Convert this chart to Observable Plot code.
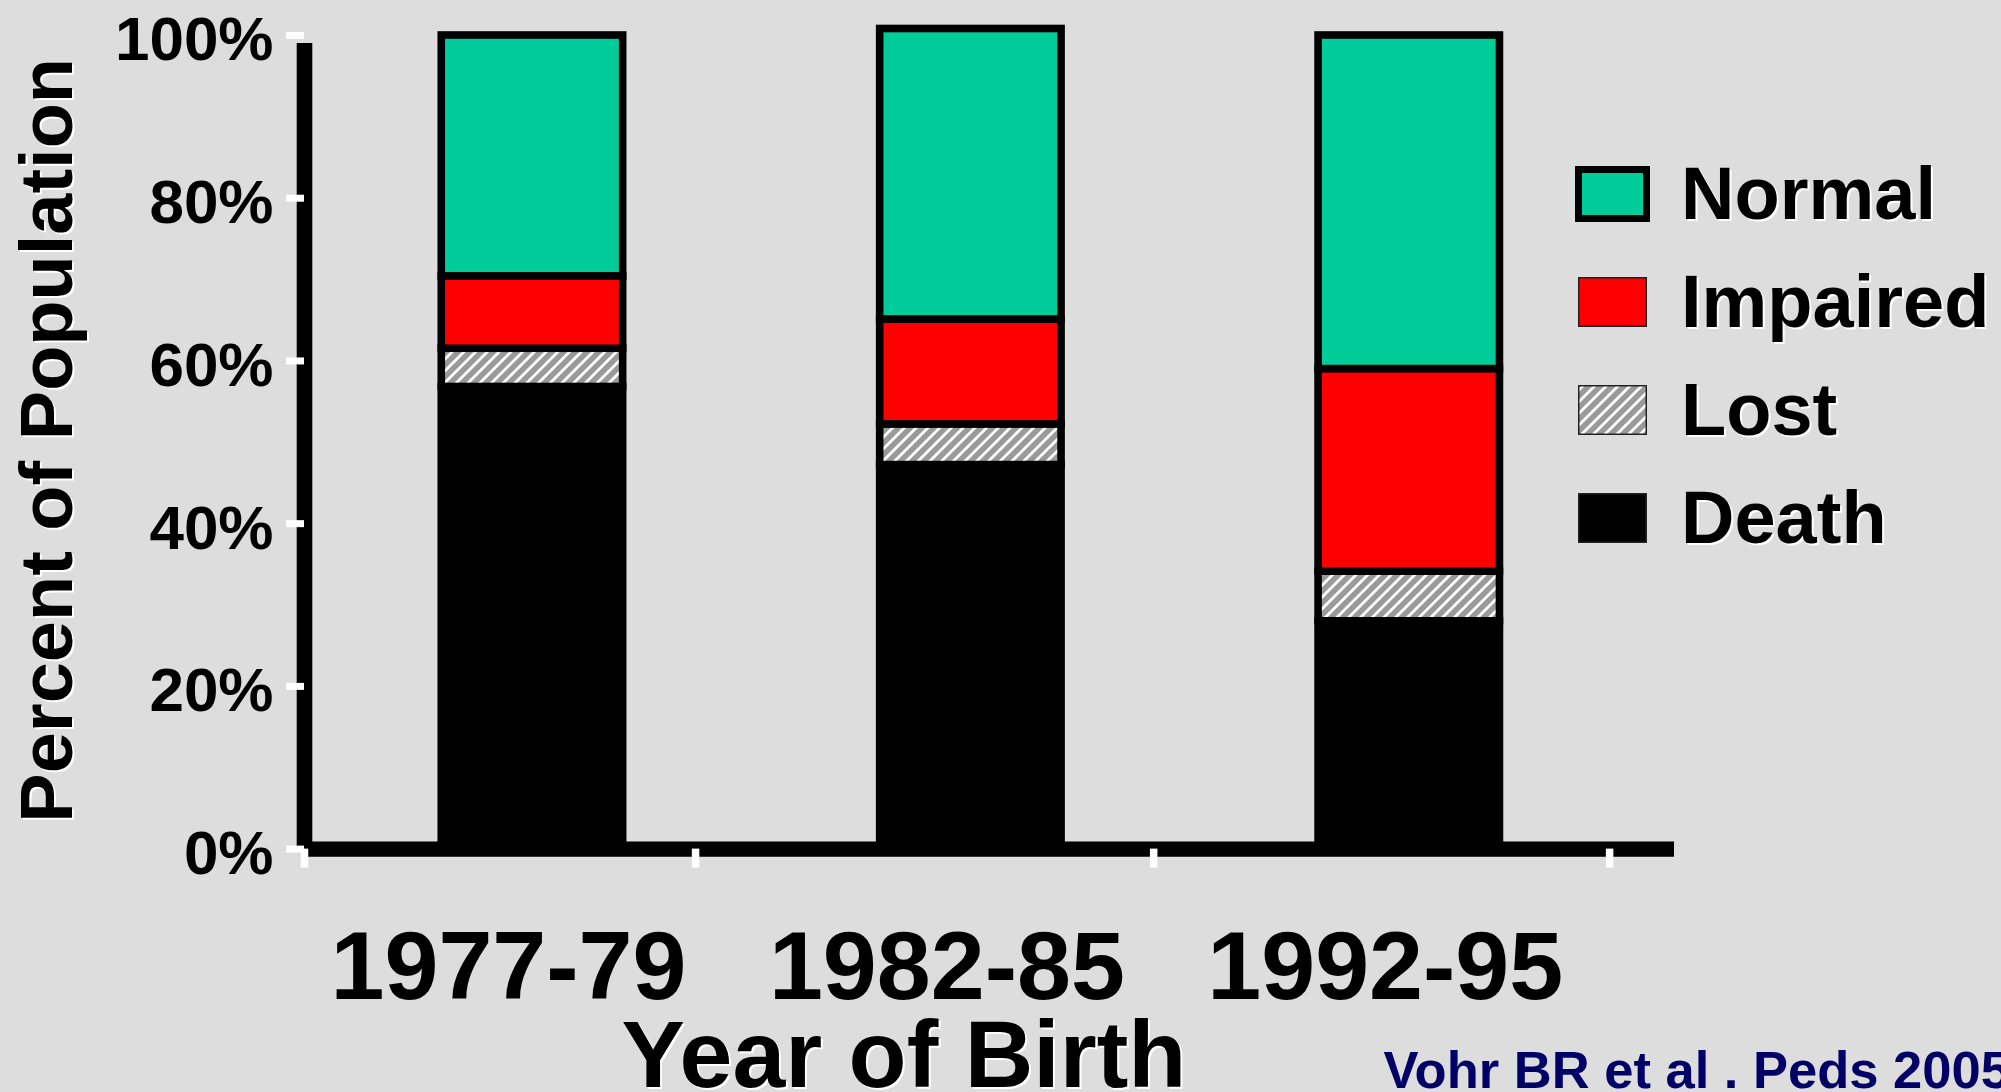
<!DOCTYPE html>
<html>
<head>
<meta charset="utf-8">
<script src="https://cdn.jsdelivr.net/npm/d3@7"></script>
<script src="https://cdn.jsdelivr.net/npm/@observablehq/plot@0.6"></script>
<style>
  html, body { margin: 0; padding: 0; background: #dddddd; overflow: hidden; }
  #wrap { position: relative; width: 2001px; height: 1092px; }
  #legend { position: absolute; left: 1575px; top: 140px; font-family: "Liberation Sans", Arial, sans-serif; }
  .row { display: flex; align-items: center; height: 108px; }
  .sw { width: 106px; display: flex; align-items: center; }
  .lab { font-size: 74px; font-weight: bold; line-height: 1; color: #000; text-shadow: 2px 2px 0 #fff; }
</style>
</head>
<body>
<svg width="0" height="0" style="position:absolute">
  <defs>
    <pattern id="hatch" patternUnits="userSpaceOnUse" width="8.3" height="8.3" patternTransform="rotate(45)">
      <rect width="8.3" height="8.3" fill="#9a9a9a"></rect>
      <line x1="4.15" y1="0" x2="4.15" y2="8.3" stroke="#ffffff" stroke-width="2.8"></line>
    </pattern>
  </defs>
</svg>
<div id="wrap">
  <div id="chart"></div>
  <div id="legend"></div>
</div>
<script>
// ---- data ----
const years = ["1977-79", "1982-85", "1992-95"];
const yearPos = [1, 2, 3];
const statuses = ["Death", "Lost", "Impaired", "Normal"];
const death = [56.8, 47.2, 28.0];
const lost = [4.7, 5.0, 6.1];
const impaired = [8.9, 12.9, 24.9];
const normal = [29.6, 35.7, 41.0];
const statusColors = ["#000000", "url(#hatch)", "#ff0000", "#00cc99"];
const legendOrder = ["Normal", "Impaired", "Lost", "Death"];
const yTicks = [0, 20, 40, 60, 80, 100];
const xTickPositions = [0.48, 1.372, 2.417, 3.457];
const xDomain = [0.48, 3.605];
const xTitle = "Year of Birth";
const yTitle = "Percent of Population";
const caption = "Vohr BR et al . Peds 2005";

const FONT = "Liberation Sans, Arial, sans-serif";
const series = {Death: death, Lost: lost, Impaired: impaired, Normal: normal};

// build stacked rows
const rows = [];
years.forEach((yr, i) => {
  let acc = 0;
  statuses.forEach(s => {
    const v = series[s][i];
    rows.push({year: yr, pos: yearPos[i], status: s, y1: acc, y2: acc + v});
    acc += v;
  });
});

const chart = Plot.plot({
  width: 2001,
  height: 1092,
  marginLeft: 304,
  marginRight: 327,
  marginTop: 35,
  marginBottom: 243.4,
  style: {background: "#dddddd", overflow: "visible", fontFamily: FONT},
  x: {type: "linear", domain: xDomain},
  y: {domain: [0, 100]},
  color: {domain: statuses, range: statusColors},
  marks: [
    Plot.rect(rows, {
      x1: d => d.pos - 0.5, x2: d => d.pos + 0.5,
      y1: "y1", y2: "y2",
      insetLeft: 128.5, insetRight: 128.5,
      fill: "status", stroke: "black", strokeWidth: 7.6
    }),
    Plot.ruleX([xDomain[0]], {y1: 0, y2: 100, stroke: "black", strokeWidth: 15.6, insetBottom: -8}),
    Plot.ruleY([0], {stroke: "black", strokeWidth: 15.3}),
    Plot.axisY({ticks: yTicks, tickSize: 18, stroke: "white", strokeWidth: 7, tickFormat: () => "", label: null}),
    Plot.axisY({ticks: yTicks, tickSize: 0, tickPadding: 31, tickFormat: d => d + "%", label: null,
      fontSize: 62, fontWeight: "bold", fontFamily: FONT, fill: "black", dy: 5}),
    Plot.axisX({ticks: xTickPositions, tickSize: 19, stroke: "white", strokeWidth: 7.5, tickFormat: () => "", label: null}),
    Plot.text(years, {x: (d, i) => yearPos[i], frameAnchor: "bottom", dy: 149.4, dx: -24, lineAnchor: "bottom",
      fontSize: 97, fontWeight: "bold", fontFamily: FONT, fill: "black"}),
    Plot.text([yTitle], {frameAnchor: "left", rotate: -90, dx: -231, dy: 0, lineAnchor: "bottom", textAnchor: "middle",
      fontSize: 74, fontWeight: "bold", fontFamily: FONT, fill: "white"}),
    Plot.text([yTitle], {frameAnchor: "left", rotate: -90, dx: -233, dy: -2, lineAnchor: "bottom", textAnchor: "middle",
      fontSize: 74, fontWeight: "bold", fontFamily: FONT, fill: "black"}),
    Plot.text([xTitle], {x: () => yearPos[1], frameAnchor: "bottom", dx: -65, dy: 240, lineAnchor: "bottom",
      fontSize: 95, fontWeight: "bold", fontFamily: FONT, fill: "white"}),
    Plot.text([xTitle], {x: () => yearPos[1], frameAnchor: "bottom", dx: -67, dy: 238, lineAnchor: "bottom",
      fontSize: 95, fontWeight: "bold", fontFamily: FONT, fill: "black"}),
    Plot.text([caption], {frameAnchor: "bottom-left", textAnchor: "start", dx: 1079, dy: 238.5, lineAnchor: "bottom",
      fontSize: 52.5, fontWeight: "bold", fontFamily: FONT, fill: "#000066"})
  ]
});
document.getElementById("chart").appendChild(chart);

// ---- legend ----
const legend = document.getElementById("legend");
legendOrder.forEach(s => {
  const fill = statusColors[statuses.indexOf(s)];
  const row = document.createElement("div");
  row.className = "row";
  const sw = document.createElement("div");
  sw.className = "sw";
  let svg;
  if (s === "Normal") {
    svg = `<svg width="75" height="56"><rect x="3.5" y="3.5" width="68" height="49" fill="${fill}" stroke="#000" stroke-width="7"/></svg>`;
  } else {
    svg = `<svg width="69" height="50" style="margin-left:3px"><rect x="0.75" y="0.75" width="67.5" height="48.5" fill="${fill}" stroke="#222" stroke-width="1.5"/></svg>`;
  }
  sw.innerHTML = svg;
  const lab = document.createElement("div");
  lab.className = "lab";
  lab.textContent = s;
  row.appendChild(sw);
  row.appendChild(lab);
  legend.appendChild(row);
});
</script>
</body>
</html>
